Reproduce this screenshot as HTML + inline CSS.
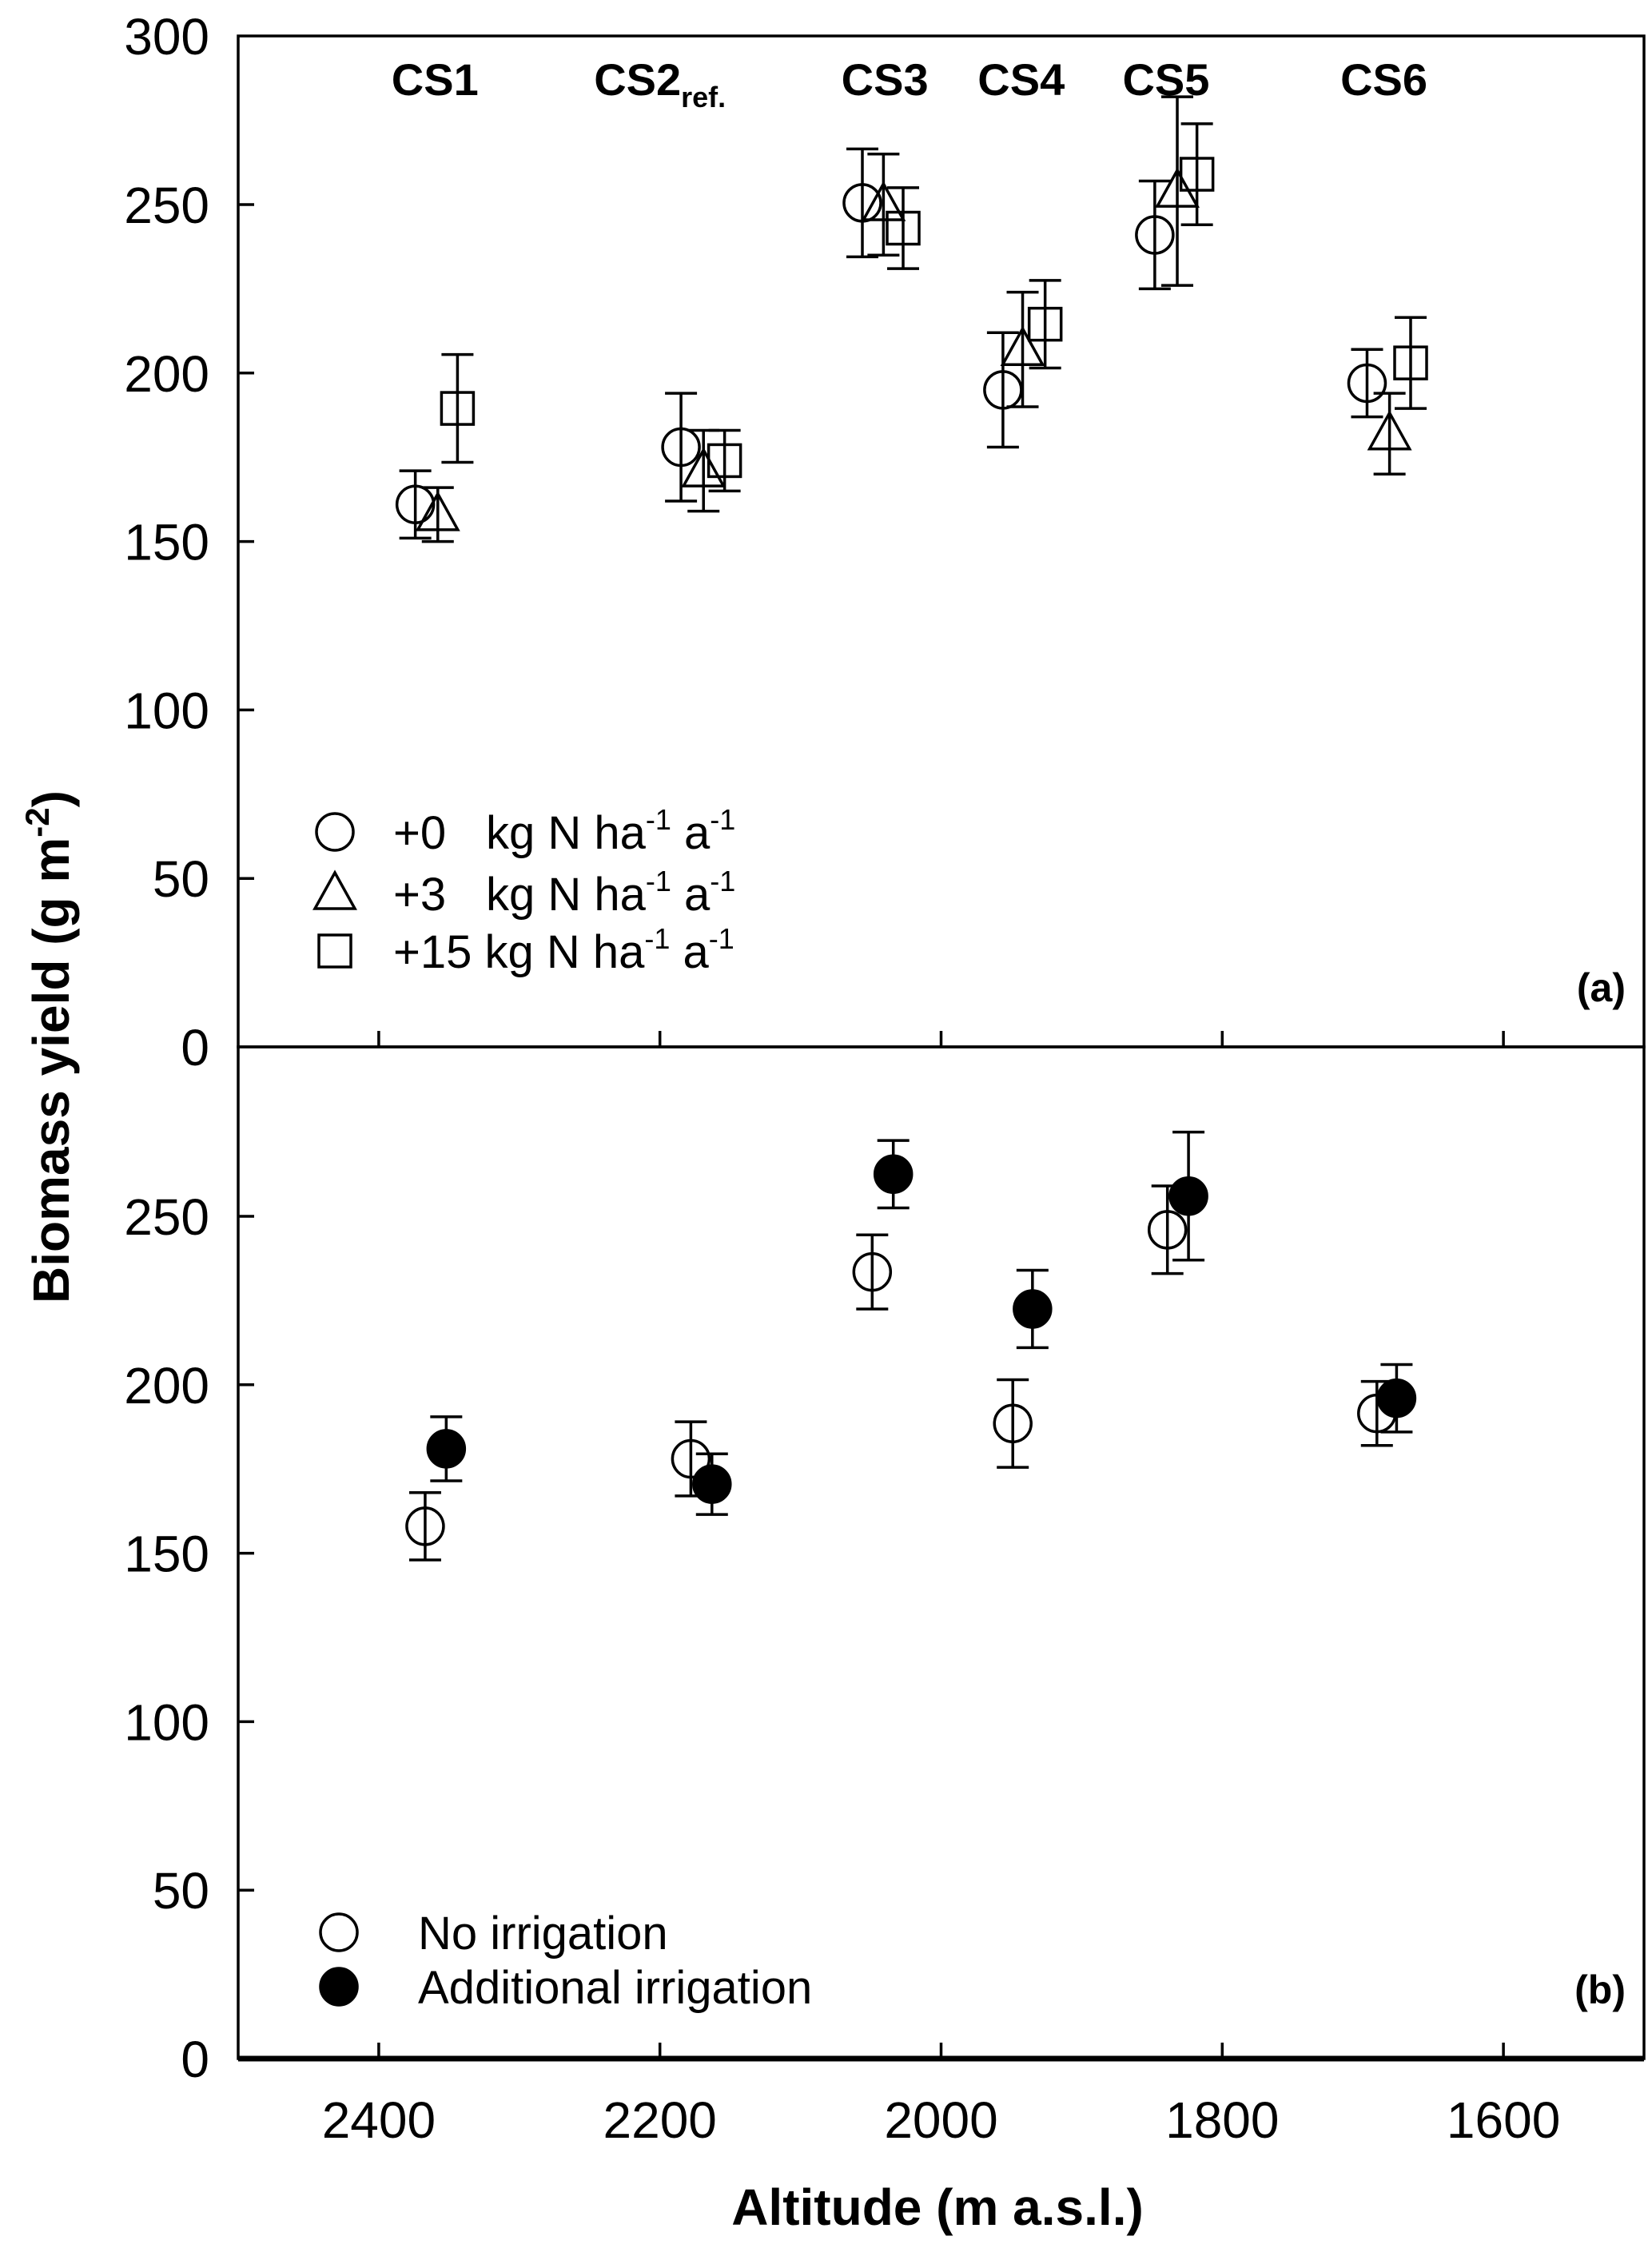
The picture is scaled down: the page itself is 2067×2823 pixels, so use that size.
<!DOCTYPE html>
<html><head><meta charset="utf-8"><style>
html,body{margin:0;padding:0;background:#fff}
svg{display:block}
text{font-family:"Liberation Sans",Arial,sans-serif;fill:#000}
</style></head><body>
<svg id="chart" width="2067" height="2823" viewBox="0 0 2067 2823" xmlns="http://www.w3.org/2000/svg"></svg>
<script>
// Panel (a) data: altitude, mean, error
const aCircleAlt=[2374,2185,2056,1956,1848,1697];
const aCircleVal=[161,178,250.5,195,241,197];
const aCircleErr=[10,16,16,17,16,10];
const aTriAlt=[2358,2169,2041,1942,1832,1681];
const aTriVal=[158,171,250,207,254,182];
const aTriErr=[8,12,15,17,28,12];
const aSqAlt=[2344,2154,2027,1926,1818,1666];
const aSqVal=[189.5,174,243,214.5,259,203];
const aSqErr=[16,9,12,13,15,13.5];
// Panel (b) data
const bOpenAlt=[2367,2178,2049,1949,1839,1690];
const bOpenVal=[158,178,233.5,188.5,246,191.5];
const bOpenErr=[10,11,11,13,13,9.5];
const bFillAlt=[2352,2163,2034,1935,1824,1676];
const bFillVal=[181,170.5,262.5,222.5,256,196];
const bFillErr=[9.5,9,10,11.5,19,10];
const xTicks=[2400,2200,2000,1800,1600];
const aYTicks=[0,50,100,150,200,250,300];
const bYTicks=[0,50,100,150,200,250];
const siteLabels=["CS1","CS2","CS3","CS4","CS5","CS6"];
const siteLabelAlt=[2360,2200,2040,1943,1840,1685];

const svg=document.getElementById('chart');
const NS="http://www.w3.org/2000/svg";
const L=298,R=2057,TOP=45,MID=1310,BOT=2576,UNIT=4.216;
function x(a){return L+(2500-a)/1000*(R-L);}
function ya(v){return MID-v*UNIT;}
function yb(v){return BOT-v*UNIT;}
function mk(tag,attrs,parent){const e=document.createElementNS(NS,tag);for(const k in attrs)e.setAttribute(k,attrs[k]);(parent||svg).appendChild(e);return e;}
function txt(s,x0,y0,size,opts,parent){const t=mk('text',Object.assign({x:x0,y:y0,'font-size':size},opts||{}),parent);t.textContent=s;return t;}
const SW=3.5;

// frames
const fa=mk('rect',{x:L,y:TOP,width:R-L,height:MID-TOP,fill:'none',stroke:'#000','stroke-width':SW});


const fb=mk('rect',{x:L,y:MID,width:R-L,height:BOT-MID,fill:'none',stroke:'#000','stroke-width':SW});


const xa=mk('line',{x1:L,x2:R,y1:BOT,y2:BOT,stroke:'#000','stroke-width':7});



// ticks
aYTicks.forEach(v=>{const y=ya(v);
 if(v>0&&v<300)mk('line',{x1:L,x2:L+20,y1:y,y2:y,stroke:'#000','stroke-width':SW});
 const t=txt(String(v),262,y+23,64,{'text-anchor':'end'});
 
 
});
bYTicks.forEach(v=>{const y=yb(v);
 if(v>0)mk('line',{x1:L,x2:L+20,y1:y,y2:y,stroke:'#000','stroke-width':SW});
 const t=txt(String(v),262,y+23,64,{'text-anchor':'end'});
 
 
});
xTicks.forEach(a=>{const xx=x(a);
 mk('line',{x1:xx,x2:xx,y1:MID,y2:MID-20,stroke:'#000','stroke-width':SW});
 mk('line',{x1:xx,x2:xx,y1:BOT,y2:BOT-20,stroke:'#000','stroke-width':SW});
 const t=txt(String(a),xx,2675,64,{'text-anchor':'middle'});
 
 
});

// site labels
siteLabels.forEach((s,i)=>{
 const t=txt('',x(siteLabelAlt[i]),119,56,{'text-anchor':'middle','font-weight':'bold'});
 
 
 const a=mk('tspan',{},t);a.textContent=s;
 if(s==="CS2"){const b=mk('tspan',{'font-size':36,dy:15},t);b.textContent="ref.";}
});

// markers
function errbar(xx,yf,v,e,g){
 const y1=yf(v+e),y2=yf(v-e);
 mk('line',{x1:xx,x2:xx,y1:y1,y2:y2,stroke:'#000','stroke-width':SW},g);
 mk('line',{x1:xx-20,x2:xx+20,y1:y1,y2:y1,stroke:'#000','stroke-width':SW},g);
 mk('line',{x1:xx-20,x2:xx+20,y1:y2,y2:y2,stroke:'#000','stroke-width':SW},g);
}
function shape(type,cx,cy,g,fill){
 if(type==='circle')return mk('circle',{cx:cx,cy:cy,r:23,fill:fill||'none',stroke:'#000','stroke-width':SW},g);
 if(type==='tri')return mk('polygon',{points:`${cx},${cy-26} ${cx-25},${cy+19} ${cx+25},${cy+19}`,fill:'none',stroke:'#000','stroke-width':SW},g);
 return mk('rect',{x:cx-20,y:cy-20,width:40,height:40,fill:'none',stroke:'#000','stroke-width':SW},g);
}
function series(alts,vals,errs,yf,type,name,fill){
 alts.forEach((a,i)=>{
  const g=mk('g',{});
  
  
  errbar(x(a),yf,vals[i],errs[i],g);
  shape(type,x(a),yf(vals[i]),g,fill);
 });
}
series(aCircleAlt,aCircleVal,aCircleErr,ya,'circle','point-0n');
series(aTriAlt,aTriVal,aTriErr,ya,'tri','point-3n');
series(aSqAlt,aSqVal,aSqErr,ya,'sq','point-15n');
series(bOpenAlt,bOpenVal,bOpenErr,yb,'circle','point-no-irrigation');
series(bFillAlt,bFillVal,bFillErr,yb,'circle','point-irrigation','#000');

// legend a
const legShapes=['circle','tri','sq'];
const legNums=['+0','+3','+15 kg N ha'];
[1041,1118,1190].forEach((y,i)=>{
 const g=mk('g',{});
 
 
 shape(legShapes[i],419,y,g);
 const t=txt('',492,y+21,58,{},g);
 const s=mk('tspan',{},t);s.textContent=legNums[i];
 if(i<2){const s2=mk('tspan',{x:608},t);s2.textContent='kg N ha';}
 const sup1=mk('tspan',{'font-size':36,dy:-24},t);sup1.textContent='-1';
 const a=mk('tspan',{dy:24},t);a.textContent=' a';
 const sup2=mk('tspan',{'font-size':36,dy:-24},t);sup2.textContent='-1';
});
// legend b
[['No irrigation','none',2418],['Additional irrigation','#000',2486]].forEach(e=>{
 const g=mk('g',{});
 
 
 shape('circle',424,e[2],g,e[1]);
 txt(e[0],523,e[2]+21,58,{},g);
});
// panel letters
const pa=txt('(a)',2034,1253,50,{'text-anchor':'end','font-weight':'bold'});


const pb=txt('(b)',2034,2507,50,{'text-anchor':'end','font-weight':'bold'});


// axis titles
const xt=txt('Altitude (m a.s.l.)',1173,2784,64,{'text-anchor':'middle','font-weight':'bold'});


const yt=txt('',0,0,64,{'text-anchor':'middle','font-weight':'bold',transform:'translate(86,1310) rotate(-90)'});


const y1=mk('tspan',{},yt);y1.textContent='Biomass yield (g m';
const y2=mk('tspan',{'font-size':42,dy:-25},yt);y2.textContent='-2';
const y3=mk('tspan',{dy:25},yt);y3.textContent=')';
</script>
</body></html>
